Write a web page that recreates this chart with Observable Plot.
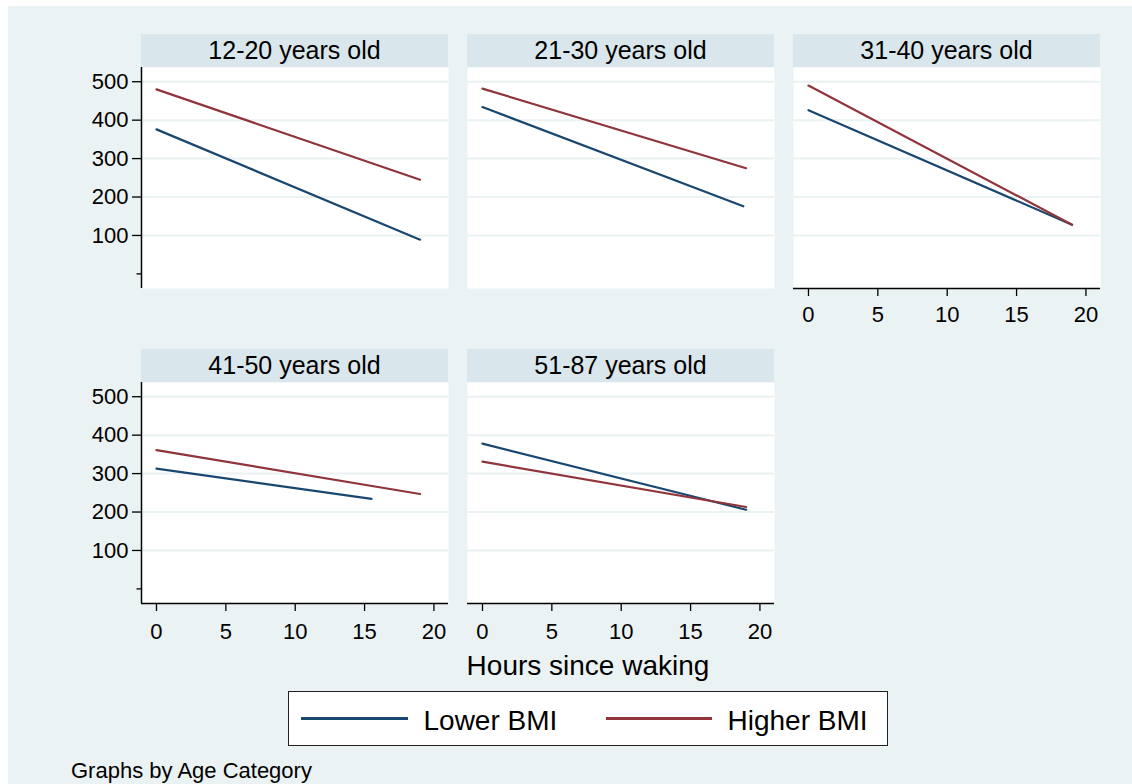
<!DOCTYPE html>
<html><head><meta charset="utf-8">
<script src="https://cdn.jsdelivr.net/npm/d3@7"></script>
<script src="https://cdn.jsdelivr.net/npm/@observablehq/plot@0.6"></script>
<style>
body{margin:0;font-family:"Liberation Sans",Arial,sans-serif;}
#page{position:relative;width:1132px;height:784px;background:#fff;overflow:hidden;}
#bg{position:absolute;left:8px;top:6px;right:0;bottom:0;background:#EAF2F3;}
.strip{position:absolute;background:#D9E6EB;color:#000;font-size:25px;text-align:center;line-height:33px;height:33px;}
.panel{position:absolute;}
.txt{position:absolute;color:#000;white-space:nowrap;}
</style></head><body><div id="page"><div id="bg"></div></div>
<script>
// ---- data ----
const ageCategories = ["12-20 years old","21-30 years old","31-40 years old","41-50 years old","51-87 years old"];
const groups = ["Lower BMI","Higher BMI"];
const lowerStartHour = [0, 0, 0, 0, 0];
const lowerEndHour = [19, 18.8, 19, 15.5, 19];
const lowerStartValue = [376, 434, 426, 313, 378];
const lowerEndValue = [89, 176, 128, 234, 206];
const higherStartHour = [0, 0, 0, 0, 0];
const higherEndHour = [19, 19, 19, 19, 19];
const higherStartValue = [480, 482, 490, 361, 331];
const higherEndValue = [245, 275, 128, 247, 213];
const yTicks = [100, 200, 300, 400, 500];
const yMinorTicks = [0];
const xTicks = [0, 5, 10, 15, 20];
const xTitle = "Hours since waking";
const note = "Graphs by Age Category";

const palette = ["#1A476F", "#90353B"];
const xDomain = [-1.08, 21.05];
const yDomain = [-38, 537];

const page = document.getElementById("page");
const colLeft = [141, 467, 793];
const rowTop = [67, 382];
const W = 307, H = 221;

ageCategories.forEach((cat, i) => {
  const col = i % 3, row = Math.floor(i / 3);
  const data = [
    {group: groups[0], hour: lowerStartHour[i], value: lowerStartValue[i]},
    {group: groups[0], hour: lowerEndHour[i], value: lowerEndValue[i]},
    {group: groups[1], hour: higherStartHour[i], value: higherStartValue[i]},
    {group: groups[1], hour: higherEndHour[i], value: higherEndValue[i]}
  ];
  const hasY = col === 0;
  const hasX = i >= 2;
  const ml = hasY ? 80 : 0, mb = hasX ? 55 : 0;
  const chart = Plot.plot({
    width: W + ml, height: H + mb,
    marginLeft: ml, marginRight: 0, marginTop: 0, marginBottom: mb,
    style: {background: "transparent", fontFamily: "'Liberation Sans', Arial, sans-serif", color: "#000", overflow: "visible"},
    x: {domain: xDomain, axis: null},
    y: {domain: yDomain, axis: null},
    color: {domain: groups, range: palette},
    marks: [
      Plot.frame({fill: "white", stroke: null}),
      Plot.ruleY(yTicks, {stroke: "#EAF2F3", strokeWidth: 2}),
      Plot.line(data, {x: "hour", y: "value", z: "group", stroke: "group", strokeWidth: 2.2}),
      hasY ? [
        Plot.axisY(yTicks, {tickSize: 9, tickPadding: 4, fontSize: 22, label: null, strokeWidth: 1.3}),
        Plot.axisY(yMinorTicks, {tickSize: 4.5, tickFormat: () => "", label: null, strokeWidth: 1.3}),
        Plot.ruleX([xDomain[0]], {stroke: "#000", strokeWidth: 1.5})
      ] : null,
      hasX ? [
        Plot.axisX(xTicks, {tickSize: 8, tickPadding: row === 0 ? 10 : 12, fontSize: 22, label: null, strokeWidth: 1.3}),
        Plot.ruleY([yDomain[0]], {stroke: "#000", strokeWidth: 1.5})
      ] : null
    ]
  });
  chart.classList.add("panel");
  chart.style.left = (colLeft[col] - ml) + "px";
  chart.style.top = rowTop[row] + "px";
  page.appendChild(chart);

  const strip = document.createElement("div");
  strip.className = "strip";
  strip.textContent = cat;
  strip.style.left = colLeft[col] + "px";
  strip.style.top = (rowTop[row] - 33) + "px";
  strip.style.width = W + "px";
  page.appendChild(strip);
});

// x title
const xt = document.createElement("div");
xt.className = "txt";
xt.textContent = xTitle;
Object.assign(xt.style, {left: "388px", width: "400px", textAlign: "center", top: "650px", fontSize: "28px", lineHeight: "32px"});
page.appendChild(xt);

// legend
const leg = document.createElement("div");
Object.assign(leg.style, {position: "absolute", left: "288px", top: "691px", width: "600px", height: "55px", boxSizing: "border-box", border: "1px solid #222", background: "#fff"});
const legLine = [12, 316.5];
const legText = [134.5, 438.5];
groups.forEach((g, k) => {
  const ln = document.createElement("div");
  Object.assign(ln.style, {position: "absolute", left: legLine[k] + "px", top: "24.5px", width: "106.5px", height: "3px", background: palette[k]});
  leg.appendChild(ln);
  const t = document.createElement("div");
  t.className = "txt";
  t.textContent = g;
  Object.assign(t.style, {left: legText[k] + "px", top: "12.5px", fontSize: "28px", lineHeight: "32px"});
  leg.appendChild(t);
});
page.appendChild(leg);

// note
const nt = document.createElement("div");
nt.className = "txt";
nt.textContent = note;
Object.assign(nt.style, {left: "71px", top: "758px", fontSize: "22px", lineHeight: "26px"});
page.appendChild(nt);
</script>
</body></html>
